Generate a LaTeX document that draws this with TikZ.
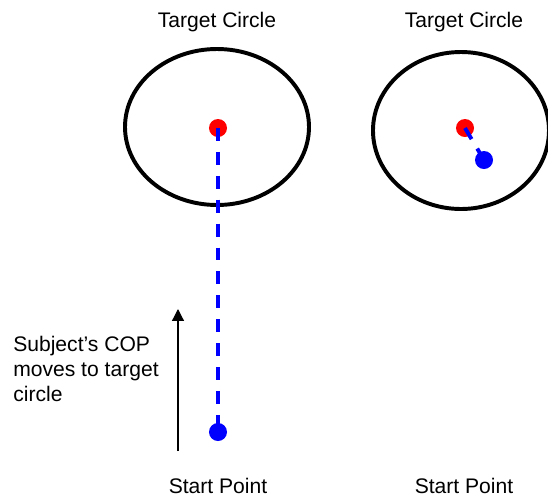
\documentclass[tikz,border=0pt]{standalone}
\usepackage{fontspec}
\setmainfont{Liberation Sans}
\usepackage{xcolor}
\usetikzlibrary{arrows.meta, positioning}
\definecolor{copred}{RGB}{255, 0, 0}
\definecolor{copblue}{RGB}{0, 0, 255}

\begin{document}
\begin{tikzpicture}[
    x=0.025cm, y=-0.025cm,
    caption/.style={font=\fontsize{15}{17.8}\selectfont, inner sep=0},
    target/.style={draw, line width=2.8pt},
    dot/.style={circle, inner sep=0, minimum size=0.45cm},
    trace/.style={copblue, line width=2.8pt, dash pattern=on 9.2pt off 7.8pt},
    arrow/.style={-{Triangle[width=8.5pt, length=8.5pt]}, line width=0.9pt}
]

    \useasboundingbox (0,0) rectangle (548,502);

    % Left target (COP moving in)
    \node[caption, anchor=base] (title1) at (217, 27) {Target Circle};
    \draw[target] (217, 127) ellipse [x radius=92, y radius=78];
    \node[dot, fill=copred] (red1) at (218, 128) {};
    \node[dot, fill=copblue] (blue1) at (218, 432) {};
    \draw[trace] (red1.center) -- (blue1.center);
    \node[caption, anchor=base] (start1) at (218, 493) {Start Point};

    % Arrow with explanation
    \coordinate (move start) at (178, 451);
    \coordinate (move end) at (178, 309);
    \draw[arrow] (move start) -- (move end);
    \node[caption, anchor=west, align=left] (explain) at (13, 368.5)
        {Subject’s COP\\moves to target\\circle};

    % Right target (COP inside)
    \node[caption, anchor=base] (title2) at (464, 27) {Target Circle};
    \draw[target] (461, 130.5) ellipse [x radius=88, y radius=78.5];
    \node[dot, fill=copred] (red2) at (465, 128) {};
    \node[dot, fill=copblue] (blue2) at (484, 160) {};
    \draw[trace] (red2.center) -- (blue2.center);
    \node[caption, anchor=base] (start2) at (464, 493) {Start Point};

\end{tikzpicture}
\end{document}
